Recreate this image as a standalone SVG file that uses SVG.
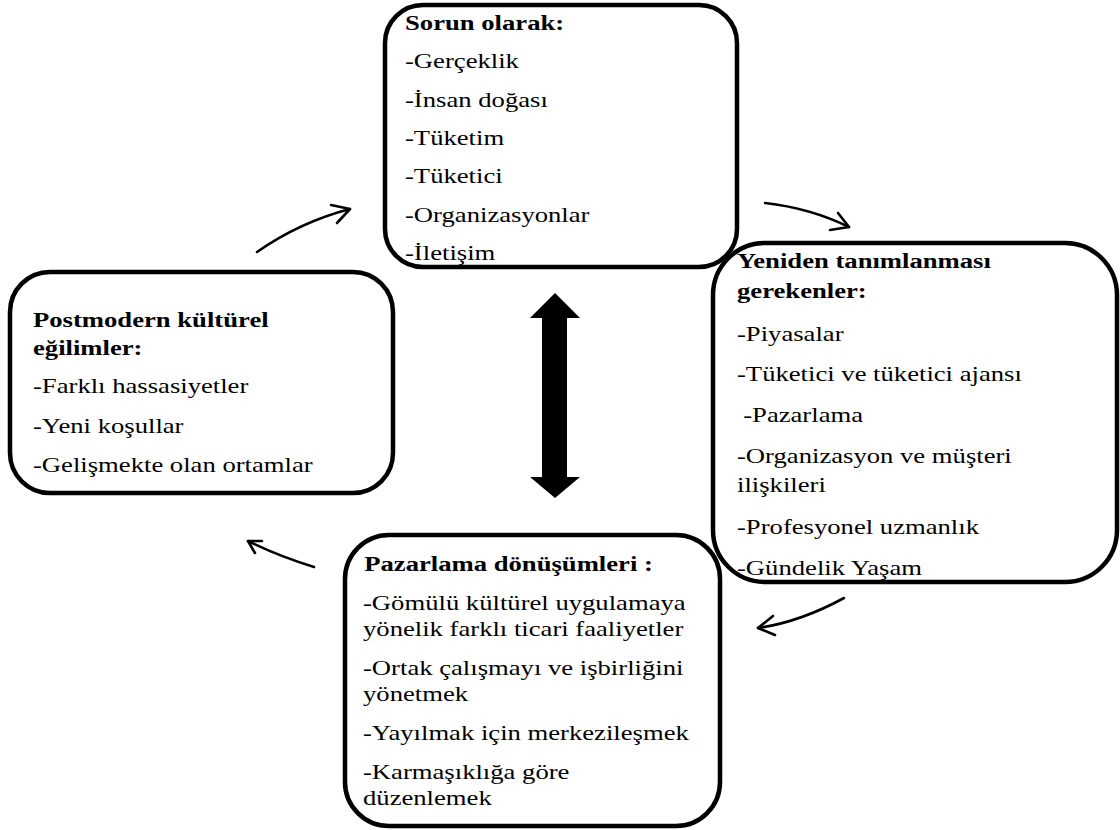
<svg xmlns="http://www.w3.org/2000/svg" width="1120" height="830" viewBox="0 0 1120 830">
  <style>
    .box { fill: #ffffff; stroke: #000000; stroke-width: 4.5; }
    .t { font-family: 'Liberation Serif', 'Times New Roman', Tinos, 'DejaVu Serif', serif; font-size: 21.5px; fill: #000000; }
    .b { font-weight: bold; }
    .con { fill: none; stroke: #000000; stroke-width: 2.6; stroke-linecap: round; stroke-linejoin: round; }
  </style>
  <rect width="1120" height="830" fill="#ffffff"/>

  <!-- Top node -->
  <g id="node-sorun">
    <rect class="box" x="385" y="5" width="352" height="262" rx="38" ry="38"/>
    <g transform="translate(405 0) scale(1.24 1)" font-family="Liberation Serif, serif">
      <text class="t b" x="0" y="30">Sorun olarak:</text>
      <text class="t" x="0" y="68">-Gerçeklik</text>
      <text class="t" x="0" y="107">-İnsan doğası</text>
      <text class="t" x="0" y="145">-Tüketim</text>
      <text class="t" x="0" y="183">-Tüketici</text>
      <text class="t" x="0" y="222">-Organizasyonlar</text>
      <text class="t" x="0" y="260">-İletişim</text>
    </g>
  </g>

  <!-- Right node -->
  <g id="node-yeniden">
    <rect class="box" x="713" y="243" width="404" height="339" rx="52" ry="52"/>
    <g transform="translate(737 0) scale(1.24 1)">
      <text class="t b" x="0" y="268">Yeniden tanımlanması</text>
      <text class="t b" x="0" y="298">gerekenler:</text>
      <text class="t" x="0" y="341">-Piyasalar</text>
      <text class="t" x="0" y="381">-Tüketici ve tüketici ajansı</text>
      <text class="t" x="5" y="422">-Pazarlama</text>
      <text class="t" x="0" y="463">-Organizasyon ve müşteri</text>
      <text class="t" x="0" y="492">ilişkileri</text>
      <text class="t" x="0" y="534">-Profesyonel uzmanlık</text>
      <text class="t" x="0" y="575">-Gündelik Yaşam</text>
    </g>
  </g>

  <!-- Left node -->
  <g id="node-postmodern">
    <rect class="box" x="10" y="272" width="383" height="221" rx="40" ry="40"/>
    <g transform="translate(33 0) scale(1.24 1)">
      <text class="t b" x="0" y="327">Postmodern kültürel</text>
      <text class="t b" x="0" y="355">eğilimler:</text>
      <text class="t" x="0" y="393">-Farklı hassasiyetler</text>
      <text class="t" x="0" y="433">-Yeni koşullar</text>
      <text class="t" x="0" y="472">-Gelişmekte olan ortamlar</text>
    </g>
  </g>

  <!-- Bottom node -->
  <g id="node-pazarlama">
    <rect class="box" x="345" y="535" width="375" height="291" rx="44" ry="44"/>
    <g transform="translate(363 0) scale(1.24 1)">
      <text class="t b" x="1" y="571">Pazarlama dönüşümleri :</text>
      <text class="t" x="0" y="610">-Gömülü kültürel uygulamaya</text>
      <text class="t" x="0" y="636">yönelik farklı ticari faaliyetler</text>
      <text class="t" x="0" y="675">-Ortak çalışmayı ve işbirliğini</text>
      <text class="t" x="0" y="701">yönetmek</text>
      <text class="t" x="0" y="740">-Yayılmak için merkezileşmek</text>
      <text class="t" x="0" y="779">-Karmaşıklığa göre</text>
      <text class="t" x="0" y="805">düzenlemek</text>
    </g>
  </g>

  <!-- Connectors -->
  <g id="connectors">
    <!-- left to top -->
    <path class="con" d="M257 252 Q300 222 350 209"/>
    <path class="con" d="M331 205 L350 209 L337 223"/>
    <!-- top to right -->
    <path class="con" d="M765 203 Q810 208 849 227"/>
    <path class="con" d="M838 213 L849 227 L830 230"/>
    <!-- right to bottom -->
    <path class="con" d="M844 598 Q800 622 758 628"/>
    <path class="con" d="M773 616 L758 628 L775 635"/>
    <!-- bottom to left -->
    <path class="con" d="M314 567 Q278 556 248 541"/>
    <path class="con" d="M255 553 L248 541 L262 541"/>
    <!-- two-way arrow in the centre -->
    <polygon fill="#000000" points="555,293 580,318 567,318 567,477 580,477 555,498 530,477 542,477 542,318 530,318"/>
  </g>
</svg>
